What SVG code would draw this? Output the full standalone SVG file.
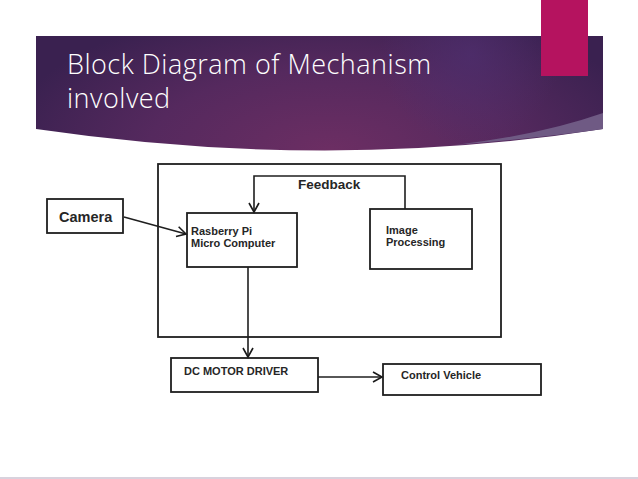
<svg xmlns="http://www.w3.org/2000/svg" width="638" height="479" viewBox="0 0 638 479">
<defs>
<radialGradient id="bg" cx="330" cy="150" r="330" gradientUnits="userSpaceOnUse" gradientTransform="translate(330 150) scale(1 0.45) translate(-330 -150)">
<stop offset="0" stop-color="#6c2e63"/>
<stop offset="0.55" stop-color="#55295e"/>
<stop offset="1" stop-color="#3a2150"/>
</radialGradient>
<radialGradient id="hl" cx="470" cy="55" r="90" gradientUnits="userSpaceOnUse">
<stop offset="0" stop-color="#4f2f70" stop-opacity="0.7"/>
<stop offset="1" stop-color="#4f2f70" stop-opacity="0"/>
</radialGradient>
<marker id="arr" markerWidth="12" markerHeight="12" refX="10" refY="6" orient="auto" markerUnits="userSpaceOnUse">
<path d="M1,1 L10,6 L1,11" fill="none" stroke="#1a1a1a" stroke-width="1.6"/>
</marker>
<style>
.box{fill:#fff;stroke:#1f1f1f;stroke-width:1.8}
.lbl{font-family:"Liberation Sans",Arial,sans-serif;font-weight:bold;font-size:11px;fill:#262626}
.ln{fill:none;stroke:#1f1f1f;stroke-width:1.6}
.title{font-family:"Open Sans","Noto Sans",sans-serif;font-size:27px;letter-spacing:0.5px;fill:#ffffff;font-weight:300}
</style>
</defs>
<rect width="638" height="479" fill="#ffffff"/>
<g id="banner">
<path d="M36,36 L603,36 L603,129 Q330,172 36,129 Z" fill="url(#bg)"/>
<path d="M36,36 L603,36 L603,129 Q330,172 36,129 Z" fill="url(#hl)"/>
<path d="M603,113 L603,129 Q540,138 455,145 Q540,135 603,113 Z" fill="#6f5a84"/>
<rect x="541" y="0" width="47" height="76" fill="#b5135f"/>
<text class="title" x="67" y="74">Block Diagram of Mechanism</text>
<text class="title" x="67" y="108">involved</text>
</g>
<g id="system">
<rect class="box" x="158" y="164" width="343" height="173" fill="none"/>
</g>
<g id="camera">
<rect class="box" x="47" y="199" width="76" height="34"/>
<text class="lbl" x="59" y="222" style="font-size:14.5px">Camera</text>
</g>
<g id="raspberry">
<rect class="box" x="187" y="213" width="110" height="54"/>
<text class="lbl" x="191" y="235">Rasberry Pi</text>
<text class="lbl" x="191" y="247">Micro Computer</text>
</g>
<g id="image">
<rect class="box" x="370" y="209" width="102" height="60"/>
<text class="lbl" x="386" y="234">Image</text>
<text class="lbl" x="386" y="246">Processing</text>
</g>
<g id="driver">
<rect class="box" x="171" y="358" width="147" height="34"/>
<text class="lbl" x="184" y="375">DC MOTOR DRIVER</text>
</g>
<g id="vehicle">
<rect class="box" x="383" y="364" width="158" height="31"/>
<text class="lbl" x="401" y="379">Control Vehicle</text>
</g>
<g id="connectors">
<polyline class="ln" points="405,209 405,176 254,176 254,212" marker-end="url(#arr)"/>
<text class="lbl" x="298" y="189" style="font-size:13.5px">Feedback</text>
<line class="ln" x1="124" y1="217" x2="186" y2="234" marker-end="url(#arr)"/>
<line class="ln" x1="248" y1="267" x2="248" y2="357" marker-end="url(#arr)"/>
<line class="ln" x1="318" y1="377" x2="382" y2="377" marker-end="url(#arr)"/>
</g>
<line x1="0" y1="478" x2="638" y2="478" stroke="#cbc3d2" stroke-width="1.5"/>
</svg>
